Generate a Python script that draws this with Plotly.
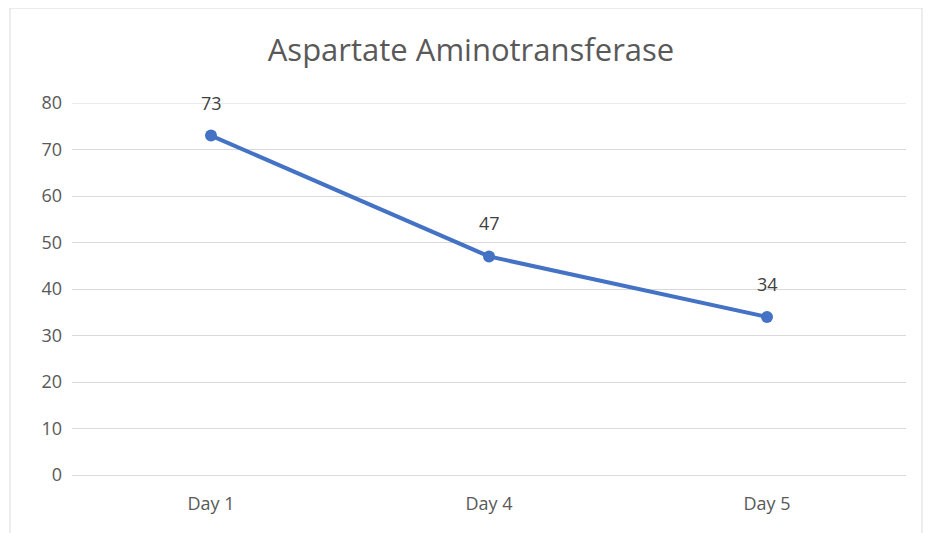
import plotly.graph_objects as go

categories = ["Day 1", "Day 4", "Day 5"]
values = [73, 47, 34]
y_ticks = [0, 10, 20, 30, 40, 50, 60, 70, 80]
title_text = "Aspartate Aminotransferase"

font_family = "Open Sans, Noto Sans, sans-serif"
text_color = "#595959"
line_color = "#4472C4"
grid_color = "#D9D9D9"

fig = go.Figure()
fig.add_trace(go.Scatter(
    x=categories, y=values, mode="lines+markers",
    line=dict(color=line_color, width=4),
    marker=dict(color=line_color, size=12),
    hoverinfo="skip", showlegend=False,
))

for c, v in zip(categories, values):
    fig.add_annotation(x=c, y=v, text=str(v), showarrow=False, yshift=33,
                       font=dict(family=font_family, size=18, color="#404040"))

W, H = 932, 533
off = 8  # page offset of the figure
ml, mr, mt, mb = 72 - off, 26 + off, 103 - off, 58 + off
pw, ph = W - ml - mr, H - mt - mb

def px_to_paper_x(px):
    return (px - off - ml) / pw

def px_to_paper_y(py):
    return (H - mb - (py - off)) / ph

fig.add_shape(type="rect", xref="paper", yref="paper",
              x0=px_to_paper_x(10), x1=px_to_paper_x(922),
              y0=px_to_paper_y(560), y1=px_to_paper_y(8),
              line=dict(color=grid_color, width=1), fillcolor="rgba(0,0,0,0)", layer="below")

# top gridline (plotly omits gridlines at the range edge)
fig.add_shape(type="line", xref="paper", yref="y", x0=0, x1=1,
              y0=y_ticks[-1], y1=y_ticks[-1],
              line=dict(color=grid_color, width=1), layer="below")

fig.update_layout(
    width=W, height=H,
    margin=dict(l=ml, r=mr, t=mt, b=mb),
    paper_bgcolor="white", plot_bgcolor="white",
    title=dict(text=title_text, x=px_to_paper_x(471), xref="paper", xanchor="center",
               y=1 - (50 - off) / H, yanchor="middle",
               font=dict(family=font_family, size=31, color=text_color)),
    font=dict(family=font_family, color=text_color, size=18),
    xaxis=dict(type="category", range=[-0.5, 2.5], showgrid=False, zeroline=False,
               showline=False, ticks="", ticklabelstandoff=16,
               tickfont=dict(size=18, color=text_color)),
    yaxis=dict(range=[0, 80], tickvals=y_ticks, showgrid=True, gridcolor=grid_color,
               gridwidth=1, zeroline=True, zerolinecolor=grid_color, zerolinewidth=1,
               showline=False, ticks="", ticklabelstandoff=9,
               tickfont=dict(size=18, color=text_color)),
)

fig.write_html("out.html")
